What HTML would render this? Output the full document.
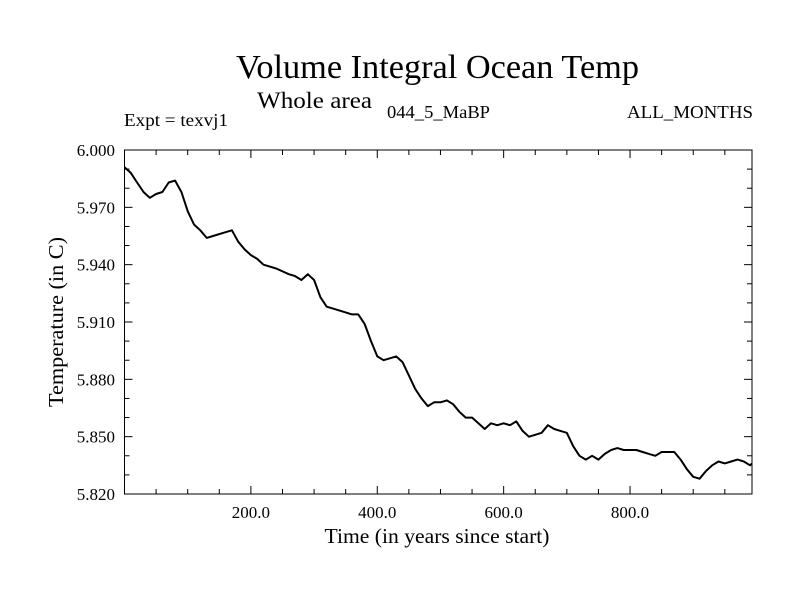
<!DOCTYPE html>
<html><head><meta charset="utf-8"><style>
body{margin:0;background:#fff}
svg{display:block;font-family:"Liberation Serif",serif}
</style></head><body>
<svg id="c" width="800" height="600">
<text x="236" y="78" font-size="34" textLength="403" lengthAdjust="spacingAndGlyphs">Volume Integral Ocean Temp</text>
<text x="257" y="108" font-size="23" textLength="115" lengthAdjust="spacingAndGlyphs">Whole area</text>
<text x="124" y="126" font-size="18" textLength="104" lengthAdjust="spacingAndGlyphs">Expt = texvj1</text>
<text x="387" y="118" font-size="18" textLength="103" lengthAdjust="spacingAndGlyphs">044_5_MaBP</text>
<text x="627" y="118" font-size="18" textLength="126" lengthAdjust="spacingAndGlyphs">ALL_MONTHS</text>
<text x="437" y="543" font-size="21" text-anchor="middle" textLength="225" lengthAdjust="spacingAndGlyphs">Time (in years since start)</text>
<text transform="translate(63,322) rotate(-90)" font-size="21" text-anchor="middle" textLength="170" lengthAdjust="spacingAndGlyphs">Temperature (in C)</text>
<g id="axes"></g>
</svg>
<script>
const years=[0,10,20,30,40,50,60,70,80,90,100,110,120,130,140,160,170,180,190,200,210,220,240,260,270,280,290,300,310,320,330,350,360,370,380,390,400,410,420,430,440,450,460,470,480,490,500,510,520,530,540,550,560,570,580,590,600,610,620,630,640,650,660,670,680,690,700,710,720,730,740,750,760,770,780,790,800,810,820,830,840,850,860,870,880,890,900,910,920,930,940,950,960,970,980,990,993];
const temps=[5.991,5.988,5.983,5.978,5.975,5.977,5.978,5.983,5.984,5.978,5.968,5.961,5.958,5.954,5.955,5.957,5.958,5.952,5.948,5.945,5.943,5.940,5.938,5.935,5.934,5.932,5.935,5.932,5.923,5.918,5.917,5.915,5.914,5.914,5.909,5.900,5.892,5.890,5.891,5.892,5.889,5.882,5.875,5.870,5.866,5.868,5.868,5.869,5.867,5.863,5.860,5.860,5.857,5.854,5.857,5.856,5.857,5.856,5.858,5.853,5.850,5.851,5.852,5.856,5.854,5.853,5.852,5.845,5.840,5.838,5.840,5.838,5.841,5.843,5.844,5.843,5.843,5.843,5.842,5.841,5.840,5.842,5.842,5.842,5.838,5.833,5.829,5.828,5.832,5.835,5.837,5.836,5.837,5.838,5.837,5.835,5.836];
const xTicks=[200,400,600,800];
const xTickLabels=["200.0","400.0","600.0","800.0"];
const yTicks=[5.820,5.850,5.880,5.910,5.940,5.970,6.000];
const yTickLabels=["5.820","5.850","5.880","5.910","5.940","5.970","6.000"];
const L=124.5,R=752,T=150,B=494,X0=0,X1=993,Y0=5.82,Y1=6.0;
const sx=v=>L+(v-X0)/(X1-X0)*(R-L);
const sy=v=>B-(v-Y0)/(Y1-Y0)*(B-T);
const NS="http://www.w3.org/2000/svg";
const g=document.getElementById('axes');
function mk(t,a){const e=document.createElementNS(NS,t);for(const k in a)e.setAttribute(k,a[k]);g.appendChild(e);return e;}
const frame=mk('rect',{x:L,y:T,width:R-L,height:B-T,fill:'none',stroke:'#000','stroke-width':1});


for(let v=50;v<X1;v+=50){const maj=v%200===0;const len=maj?8:5;
 const t1=mk('line',{x1:sx(v),x2:sx(v),y1:B,y2:B-len,stroke:'#000'});
 
 
 const t2=mk('line',{x1:sx(v),x2:sx(v),y1:T,y2:T+len,stroke:'#000'});
 
 }
xTicks.forEach((v,i)=>{const t=mk('text',{x:sx(v),y:B+24,'font-size':17,'text-anchor':'middle'});t.textContent=xTickLabels[i];
 
 });
for(let k=0;k<=18;k++){const v=Y0+k*0.01;const maj=k%3===0;const len=maj?8:5;
 const t1=mk('line',{x1:L,x2:L+len,y1:sy(v),y2:sy(v),stroke:'#000'});
 
 
 const t2=mk('line',{x1:R,x2:R-len,y1:sy(v),y2:sy(v),stroke:'#000'});
 
 }
yTicks.forEach((v,i)=>{const t=mk('text',{x:115,y:sy(v)+6,'font-size':17,'text-anchor':'end'});t.textContent=yTickLabels[i];
 
 });
const p=mk('polyline',{points:years.map((y,i)=>sx(y).toFixed(1)+','+sy(temps[i]).toFixed(1)).join(' '),fill:'none',stroke:'#000','stroke-width':2,'stroke-linejoin':'round'});


</script>
</body></html>
